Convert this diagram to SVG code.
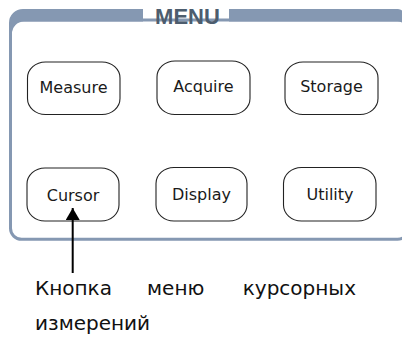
<svg xmlns="http://www.w3.org/2000/svg" width="402" height="339" viewBox="0 0 402 339">
<style>
.frame{fill:none;stroke:#8598b2;stroke-width:3}
.band{fill:#8598b2}
.title{font-family:"Liberation Sans",Arial,sans-serif;font-weight:bold;font-size:22px;fill:#4d5d6e}
.btn{fill:#fff;stroke:#222;stroke-width:1.1}
.lbl{font-family:"DejaVu Sans",Verdana,sans-serif;font-size:16px;fill:#1a1a1a;text-anchor:middle}
.cap{font-family:"DejaVu Sans",Verdana,sans-serif;font-size:20px;fill:#111}
.conn{stroke:#000;stroke-width:2;fill:none}
</style>
<defs>
<marker id="ah" markerUnits="userSpaceOnUse" markerWidth="16" markerHeight="14" refX="13" refY="7" orient="auto">
<path d="M1,0 L13,7 L1,14 Z" fill="#000"/>
</marker>
</defs>
<g id="menu-frame">
<rect class="frame" x="10.5" y="20" width="398" height="219.3" rx="11"/>
<path class="band" d="M143 9 H23 A14 14 0 0 0 9 23 V60 H12 V34 A12 12 0 0 1 24 21.5 H143 Z"/>
<path class="band" d="M229 9 H398 A6 6 0 0 1 404 15 V21.5 H229 Z"/>
<text class="title" x="187.5" y="23.5" text-anchor="middle">MENU</text>
</g>
<g id="btn-measure">
<rect class="btn" x="27.5" y="62" width="92.5" height="52.5" rx="18" ry="16"/>
<text class="lbl" x="73.5" y="93">Measure</text>
</g>
<g id="btn-acquire">
<rect class="btn" x="157" y="61" width="93" height="53.5" rx="18" ry="16"/>
<text class="lbl" x="203.5" y="92">Acquire</text>
</g>
<g id="btn-storage">
<rect class="btn" x="285" y="62" width="93" height="52.5" rx="18" ry="16"/>
<text class="lbl" x="331.5" y="92">Storage</text>
</g>
<g id="btn-cursor">
<rect class="btn" x="27" y="168" width="92" height="53" rx="18" ry="16"/>
<text class="lbl" x="73" y="200.5">Cursor</text>
</g>
<g id="btn-display">
<rect class="btn" x="156" y="167.5" width="91" height="53.5" rx="18" ry="16"/>
<text class="lbl" x="201.5" y="200">Display</text>
</g>
<g id="btn-utility">
<rect class="btn" x="283.5" y="167.5" width="92.5" height="53.5" rx="18" ry="16"/>
<text class="lbl" x="330" y="200">Utility</text>
</g>
<g id="connectors">
<line class="conn" x1="72.7" y1="273" x2="72.7" y2="208" marker-end="url(#ah)"/>
</g>
<g id="caption">
<text class="cap" x="35" y="295">Кнопка</text>
<text class="cap" x="147" y="295">меню</text>
<text class="cap" x="356" y="295" text-anchor="end">курсорных</text>
<text class="cap" x="35" y="330">измерений</text>
</g>
</svg>
